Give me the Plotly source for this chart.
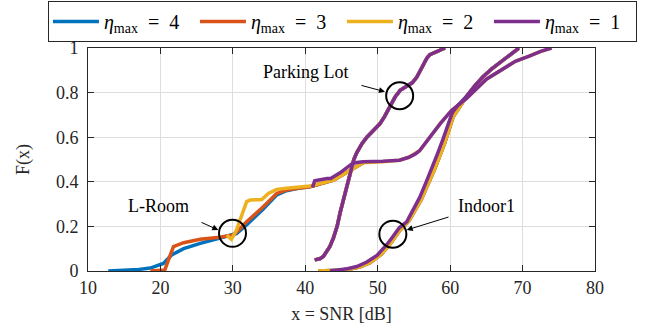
import plotly.graph_objects as go

# ---------------- data ----------------
eta_labels = ["<i>η</i><sub>max</sub>\u2002=\u20024", "<i>η</i><sub>max</sub>\u2002=\u20023",
              "<i>η</i><sub>max</sub>\u2002=\u20022", "<i>η</i><sub>max</sub>\u2002=\u20021"]
colors = ["#0072BD", "#D95319", "#EDB120", "#7E2F8E"]

# L-Room
lroom_x_eta4 = [12.8, 15, 17, 18.6, 19.5, 20.4, 21.55, 23.2, 25.5, 27.5, 29.4, 30.5, 32, 34.2, 36, 37.4,
                39, 40.6, 43.9, 46.2, 47.3, 48]
lroom_y_eta4 = [0, 0.003, 0.007, 0.013, 0.022, 0.034, 0.072, 0.10, 0.124, 0.142, 0.157, 0.168, 0.21,
                0.278, 0.34, 0.36, 0.371, 0.378, 0.408, 0.453, 0.475, 0.485]
lroom_x_eta3 = [18.6, 20.6, 21.1, 21.8, 23.2, 25.5, 28.2, 29.4, 30.1, 31.9, 34.2, 36.05, 37.4, 39,
                40.65, 43.9, 46.2, 47.3, 48]
lroom_y_eta3 = [0, 0.004, 0.049, 0.109, 0.127, 0.142, 0.151, 0.158, 0.161, 0.221, 0.288, 0.348,
                0.363, 0.371, 0.378, 0.408, 0.453, 0.475, 0.485]
lroom_x_eta2 = [29.15, 29.8, 30.5, 31.2, 31.9, 32.4, 34.0, 34.9, 36.05, 37.4, 39.3, 40.65, 43.9,
                46.2, 47.3, 48, 50.7, 53, 54.3, 55.8, 57.2, 58.6, 60.2, 62.3, 65, 66.9, 69, 71, 72.5, 74]
lroom_y_eta2 = [0.161, 0.142, 0.184, 0.244, 0.311, 0.318, 0.321, 0.348, 0.366, 0.371, 0.375, 0.381,
                0.408, 0.453, 0.475, 0.485, 0.49, 0.497, 0.51, 0.54, 0.6, 0.66, 0.72, 0.775, 0.86,
                0.9, 0.94, 0.965, 0.985, 1.0]
lroom_x_eta1 = [41.0, 41.3, 43.0, 43.5, 44.8, 45.7, 46.4, 47.1, 48, 50.7, 53, 54.3, 55.2, 55.8, 56.5,
                57.2, 58.6, 60.2, 62.3, 65, 66.9, 69, 71, 72.5, 74]
lroom_y_eta1 = [0.375, 0.405, 0.415, 0.415, 0.44, 0.465, 0.48, 0.487, 0.49, 0.492, 0.497, 0.51,
                0.525, 0.54, 0.57, 0.6, 0.66, 0.72, 0.775, 0.86, 0.9, 0.94, 0.965, 0.985, 1.0]

# Parking Lot (all four curves coincide)
park_x = [41.3, 42.0, 42.5, 43.0, 43.4, 43.9, 44.4, 44.8, 45.3, 45.8, 46.2, 46.7, 47.1, 47.8, 48.5,
          49.4, 50.3, 50.9, 51.4, 51.9, 52.4, 53.1, 53.6, 54.0, 54.8, 55.4, 55.9, 56.3, 56.8, 57.2,
          57.9, 58.6, 59.3]
park_y = [0.05, 0.055, 0.065, 0.09, 0.11, 0.15, 0.2, 0.26, 0.32, 0.39, 0.44, 0.5, 0.53, 0.57, 0.6,
          0.63, 0.66, 0.69, 0.72, 0.75, 0.78, 0.81, 0.82, 0.825, 0.845, 0.87, 0.9, 0.93, 0.955, 0.97,
          0.98, 0.99, 1.0]

# Indoor1
indoor_x_eta2 = [41.8, 43, 44.5, 46, 47.5, 49, 50.5, 51.8, 53, 54.3, 56, 57.9, 59.2, 60.4, 61.2,
                 62.3, 63.4, 64.5, 65.7, 66.9, 67.8, 68.7, 69.5]
indoor_y_eta2 = [0, 0.001, 0.003, 0.008, 0.018, 0.038, 0.075, 0.125, 0.18, 0.225, 0.32, 0.46, 0.57,
                 0.69, 0.73, 0.785, 0.83, 0.87, 0.905, 0.935, 0.96, 0.98, 1.0]
indoor_x_eta1 = [43.4, 44.5, 45.8, 47.1, 48.5, 49.9, 51.3, 52.1, 53.0, 54.0, 55.0, 55.8, 56.7, 57.6,
                 58.3, 59.0, 59.7, 60.3, 61.0, 62.3, 63.4, 64.5, 65.7, 66.9, 67.8, 68.7, 69.5]
indoor_y_eta1 = [0, 0.004, 0.01, 0.02, 0.04, 0.07, 0.12, 0.155, 0.195, 0.22, 0.28, 0.33, 0.4, 0.47,
                 0.53, 0.59, 0.65, 0.71, 0.74, 0.785, 0.83, 0.87, 0.905, 0.935, 0.96, 0.98, 1.0]

curves = {
    0: [(lroom_x_eta4, lroom_y_eta4), (park_x, park_y), (indoor_x_eta2, indoor_y_eta2)],
    1: [(lroom_x_eta3, lroom_y_eta3), (park_x, park_y), (indoor_x_eta2, indoor_y_eta2)],
    2: [(lroom_x_eta2, lroom_y_eta2), (park_x, park_y), (indoor_x_eta2, indoor_y_eta2)],
    3: [(lroom_x_eta1, lroom_y_eta1), (park_x, park_y), (indoor_x_eta1, indoor_y_eta1)],
}

# annotations
label_text = ["L-Room", "Parking Lot", "Indoor1"]
label_x = [19.8, 40.1, 65.05]
label_y = [0.292, 0.892, 0.292]
circle_x = [29.95, 53.03, 52.09]
circle_y = [0.169, 0.786, 0.165]
arrow_tail_x = [25.46, 47.55, 59.98]
arrow_tail_y = [0.221, 0.834, 0.244]
arrow_head_x = [27.99, 51.0, 54.0]
arrow_head_y = [0.184, 0.804, 0.184]

x_ticks = [10, 20, 30, 40, 50, 60, 70, 80]
y_ticks = [0, 0.2, 0.4, 0.6, 0.8, 1]

# ---------------- figure ----------------
FONT = "Liberation Serif"
fig = go.Figure()
for k in range(4):
    for j, (xs, ys) in enumerate(curves[k]):
        fig.add_trace(go.Scatter(
            x=xs, y=ys, mode="lines", name=eta_labels[k],
            line=dict(color=colors[k], width=3.5),
            legendgroup=str(k), showlegend=(j == 0)))

shapes = []
for cx, cy in zip(circle_x, circle_y):
    shapes.append(dict(type="circle", xref="x", yref="y", xsizemode="pixel", ysizemode="pixel",
                       xanchor=cx, yanchor=cy, x0=-13.5, x1=13.5, y0=-13.5, y1=13.5,
                       line=dict(color="black", width=2)))

annotations = []
for t, tx, ty in zip(label_text, label_x, label_y):
    annotations.append(dict(x=tx, y=ty, xref="x", yref="y", text=t, showarrow=False,
                            font=dict(family=FONT, size=18, color="black")))
for hx, hy, tx, ty in zip(arrow_head_x, arrow_head_y, arrow_tail_x, arrow_tail_y):
    annotations.append(dict(x=hx, y=hy, ax=tx, ay=ty, xref="x", yref="y", axref="x", ayref="y",
                            text="", showarrow=True, arrowhead=2, arrowsize=1.2, arrowwidth=1,
                            arrowcolor="black"))

axis_common = dict(showline=True, linecolor="#262626", linewidth=1, mirror="ticks",
                   ticks="inside", ticklen=6, tickcolor="#262626", automargin=False,
                   showgrid=True, gridcolor="#dedede", gridwidth=1, zeroline=False,
                   tickfont=dict(family=FONT, size=18, color="#262626"))

fig.update_layout(
    width=667, height=331,
    margin=dict(l=88, r=72, t=48, b=60, autoexpand=False),
    paper_bgcolor="white", plot_bgcolor="white",
    font=dict(family=FONT, color="#262626"),
    shapes=shapes, annotations=annotations,
    xaxis=dict(range=[10, 80], tickvals=x_ticks,
               title=dict(text="x = SNR [dB]", font=dict(family=FONT, size=18, color="#262626"),
                          standoff=10),
               **axis_common),
    yaxis=dict(range=[0, 1], tickvals=y_ticks, ticklabelstandoff=5,
               title=dict(text="F(x)", font=dict(family=FONT, size=18, color="#262626"),
                          standoff=21),
               **axis_common),
    legend=dict(orientation="h", x=-0.079, xanchor="left", xref="paper",
                y=1.2108, yanchor="top", yref="paper",
                bordercolor="#262626", borderwidth=1, bgcolor="white",
                font=dict(family=FONT, size=20, color="black"),
                itemwidth=46, entrywidth=86, tracegroupgap=0),
)

fig.write_html("out.html", config={"displayModeBar": False},
               post_script="document.body.style.margin='0';")
